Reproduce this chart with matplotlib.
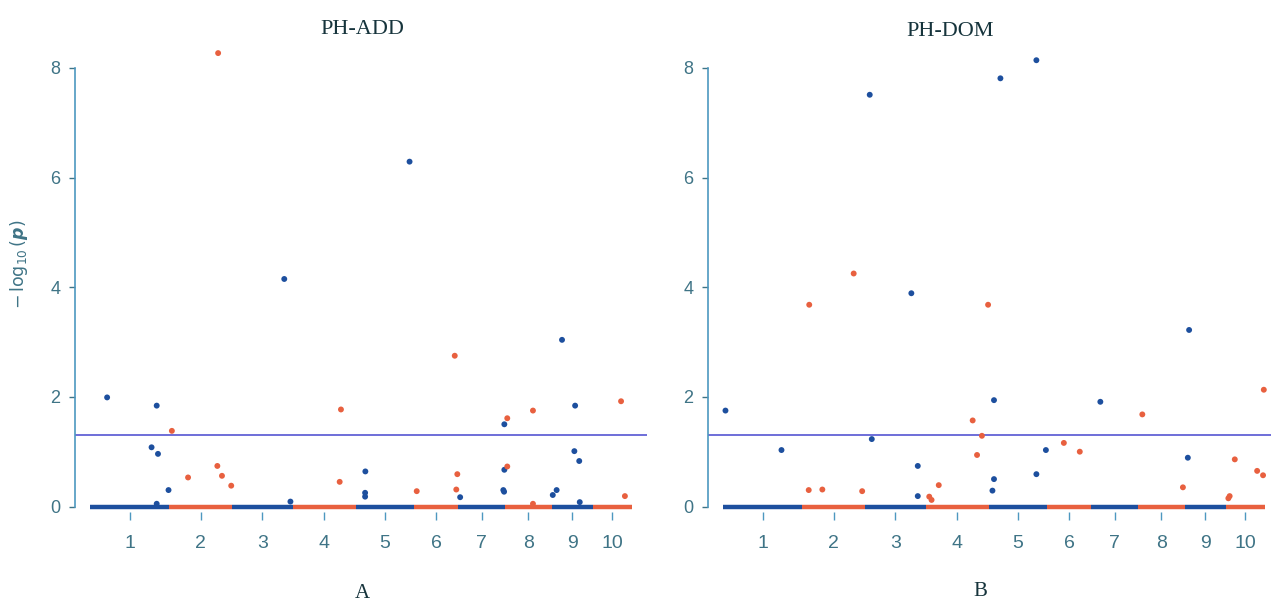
import matplotlib
matplotlib.use("Agg")
import matplotlib.pyplot as plt
import numpy as np

# maize chromosome lengths (Mb)
chrom_len = [307.04, 244.44, 235.67, 246.99, 223.90, 174.03, 182.38, 181.12, 159.77, 150.98]
chrom_names = ["1", "2", "3", "4", "5", "6", "7", "8", "9", "10"]

# PH-ADD markers: chromosome, position on chromosome (Mb), -log10(p)
add_chr = [1, 1, 1, 1, 1, 1,
           2, 2, 2, 2, 2, 2,
           3, 3,
           4, 4,
           5, 5, 5, 5,
           6, 6, 6, 6,
           7, 7, 7, 7, 7,
           8, 8, 8, 8,
           9, 9, 9, 9, 9, 9, 9,
           10, 10]
add_pos = [65, 258, 238, 263, 304, 258,
           10, 73, 187, 205, 241, 190,
           203, 227,
           188, 183,
           208, 36, 35, 35,
           12, 160, 170, 166,
           7, 179, 179, 175, 178,
           8, 8, 108, 108,
           40, 91, 88, 107, 4, 19, 109,
           110, 125]
add_logp = [1.99, 1.84, 1.08, 0.96, 0.30, 0.05,
            1.38, 0.53, 0.74, 0.56, 0.38, 8.27,
            4.15, 0.09,
            1.77, 0.45,
            6.29, 0.64, 0.25, 0.18,
            0.28, 2.75, 0.59, 0.31,
            0.17, 1.50, 0.67, 0.30, 0.27,
            1.61, 0.73, 1.75, 0.05,
            3.04, 1.84, 1.01, 0.83, 0.21, 0.30, 0.08,
            1.92, 0.19]

# PH-DOM markers
dom_chr = [1, 1,
           2, 2, 2, 2, 2,
           3, 3, 3, 3, 3,
           4, 4, 4, 4, 4, 4, 4,
           5, 5, 5, 5, 5, 5, 5,
           6, 6,
           7,
           8, 8,
           9, 9,
           10, 10, 10, 10, 10, 10]
dom_pos = [8, 226,
           27, 25, 78, 233, 200,
           18, 26, 180, 205, 205,
           14, 23, 51, 183, 219, 200, 243,
           19, 19, 13, 44, 184, 184, 221,
           67, 129,
           35,
           16, 174,
           17, 12,
           35, 15, 10, 122, 145, 148]
dom_logp = [1.75, 1.03,
            3.68, 0.30, 0.31, 0.28, 4.25,
            7.51, 1.23, 3.89, 0.74, 0.19,
            0.18, 0.12, 0.39, 1.57, 1.29, 0.94, 3.68,
            1.94, 0.50, 0.29, 7.81, 8.14, 0.59, 1.03,
            1.16, 1.00,
            1.91,
            1.68, 0.35,
            3.22, 0.89,
            0.86, 0.19, 0.15, 0.65, 0.57, 2.13]

threshold = -np.log10(0.05)

BLUE = "#1d4f9e"
RED = "#e8603f"
AXCOL = "#4d98c0"
TXTCOL = "#3f7486"
SANS = ["Liberation Sans", "DejaVu Sans"]
SERIF = ["Liberation Serif", "DejaVu Serif"]

offsets = np.concatenate([[0], np.cumsum(chrom_len)[:-1]])
mids = offsets + np.array(chrom_len) / 2
total = float(np.sum(chrom_len))


def draw_panel(ax, chrs, pos, logp, ylabel=False):
    chrs = np.array(chrs)
    x = offsets[chrs - 1] + np.array(pos)
    cols = [BLUE if c % 2 == 1 else RED for c in chrs]
    for i, L in enumerate(chrom_len):
        ax.hlines(0, offsets[i], offsets[i] + L, color=BLUE if i % 2 == 0 else RED,
                  lw=3.2, zorder=2)
    ax.scatter(x, logp, s=18, c=cols, edgecolors="none", zorder=3, clip_on=False)
    ax.axhline(threshold, color="#6262d6", lw=1.3, zorder=1)

    ax.set_xlim(-60, total + 60)
    ax.set_ylim(-0.1, 8.6)
    for s in ["top", "right", "bottom"]:
        ax.spines[s].set_visible(False)
    ax.spines["left"].set_bounds(0, 8)
    ax.spines["left"].set_color(AXCOL)
    ax.spines["left"].set_linewidth(1.2)

    ax.set_yticks([0, 2, 4, 6, 8])
    ax.set_yticklabels(["0", "2", "4", "6", "8"], family=SANS, fontsize=13, color=TXTCOL)
    ax.tick_params(axis="y", direction="out", length=4.5, width=1, color=TXTCOL, pad=6)
    ax.set_xticks(mids)
    ax.set_xticklabels(chrom_names, family=SANS, fontsize=14, color=TXTCOL)
    ax.tick_params(axis="x", direction="out", length=5.8, width=1, color=AXCOL, pad=11)
    if ylabel:
        ax.set_ylabel(r"$-\,\log_{10}(\boldsymbol{p})$", fontsize=12.5, color=TXTCOL)
        ax.yaxis.set_label_coords(-0.078, 0.52)


fig = plt.figure(figsize=(12.71, 6.02), dpi=100)
W, H = 1271.0, 602.0
ax1 = fig.add_axes([75 / W, 90 / H, 572 / W, 477 / H])
ax2 = fig.add_axes([708 / W, 90 / H, 572 / W, 477 / H])

draw_panel(ax1, add_chr, add_pos, add_logp, ylabel=True)
draw_panel(ax2, dom_chr, dom_pos, dom_logp)

fig.text(362 / W, 1 - 30 / H, "PH-ADD", family=SERIF, fontsize=16, color="#16343c",
         ha="center", va="center")
fig.text(950 / W, 1 - 32 / H, "PH-DOM", family=SERIF, fontsize=16, color="#16343c",
         ha="center", va="center")
fig.text(362 / W, 1 - 593 / H, "A", family=SERIF, fontsize=15, color="#16343c",
         ha="center", va="center")
fig.text(980 / W, 1 - 591 / H, "B", family=SERIF, fontsize=15, color="#16343c",
         ha="center", va="center")

fig.savefig("out.png", dpi=100)
